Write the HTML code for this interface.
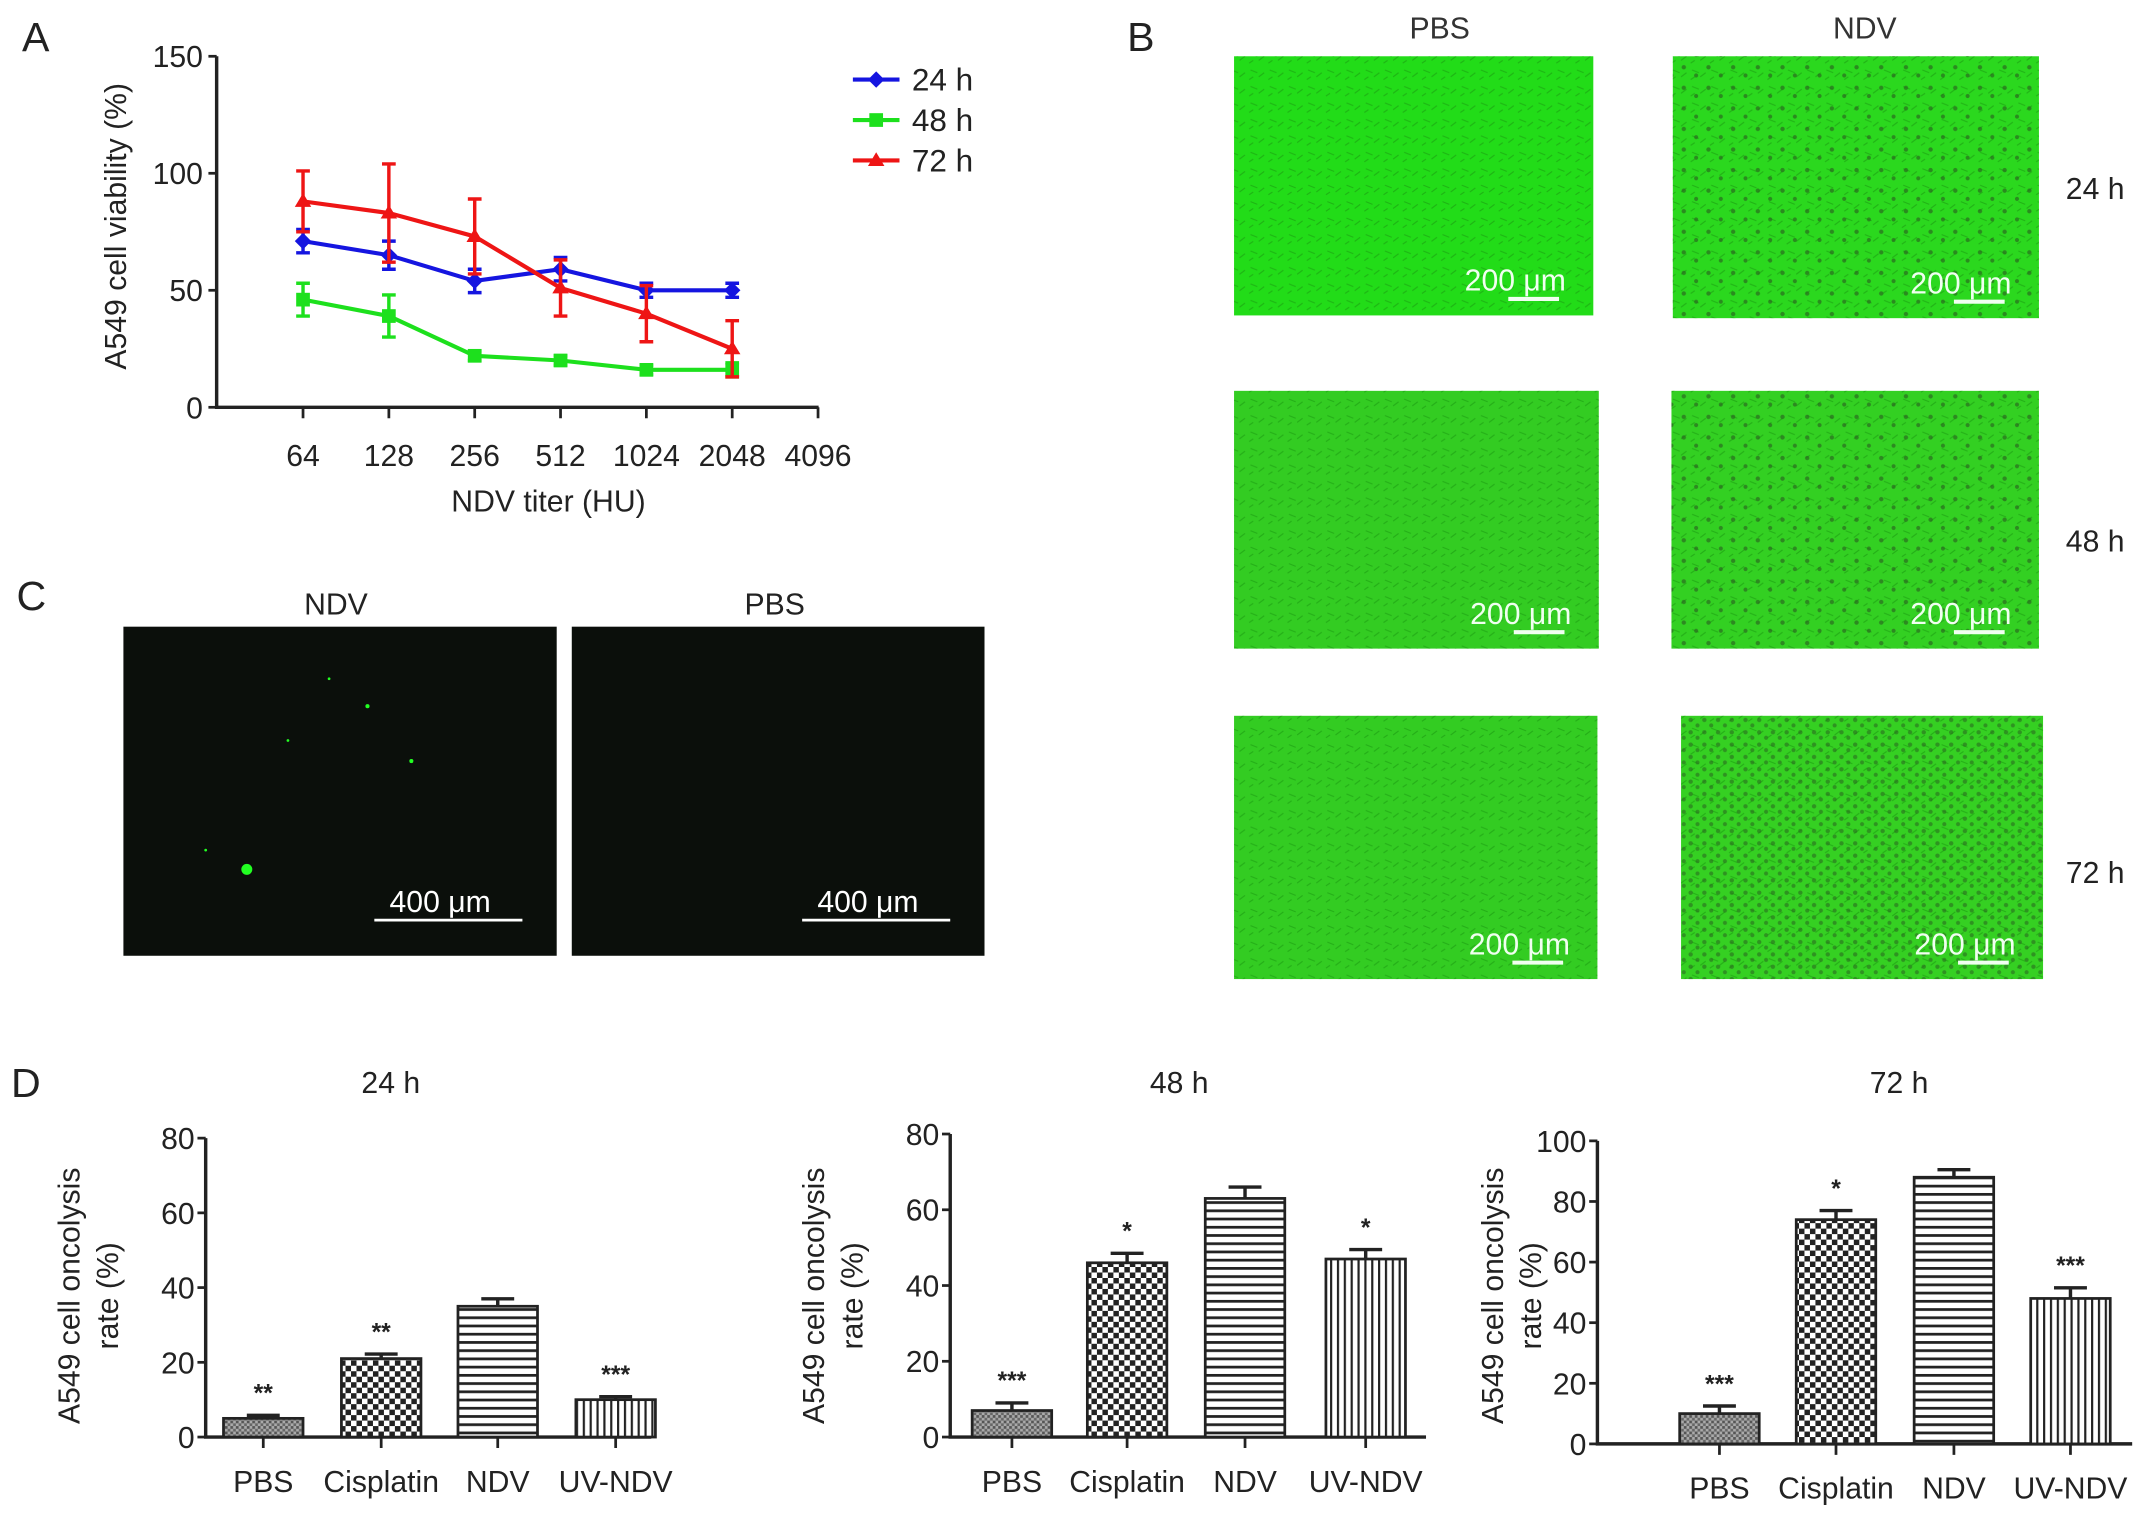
<!DOCTYPE html>
<html><head><meta charset="utf-8"><style>
html,body{margin:0;padding:0;background:#fff;width:2150px;height:1518px;overflow:hidden}
svg{display:block;font-family:"Liberation Sans",Arial,sans-serif}
</style></head><body>
<svg id="fig" width="2150" height="1518" viewBox="0 0 1568 1107" xmlns="http://www.w3.org/2000/svg">
<defs>
<pattern id="pStip" width="4" height="4" patternUnits="userSpaceOnUse"><rect width="4" height="4" fill="#aaa"/><rect width="2" height="2" fill="#555"/><rect x="2" y="2" width="2" height="2" fill="#666"/></pattern>
<pattern id="pCheck" width="8" height="8" patternUnits="userSpaceOnUse"><rect width="8" height="8" fill="#fff"/><rect width="4" height="4" fill="#222"/><rect x="4" y="4" width="4" height="4" fill="#222"/></pattern>
<pattern id="pHor" width="6" height="6" patternUnits="userSpaceOnUse"><rect width="6" height="6" fill="#fff"/><rect y="0" width="6" height="2" fill="#222"/></pattern>
<pattern id="pVer" width="5" height="5" patternUnits="userSpaceOnUse"><rect width="5" height="5" fill="#fff"/><rect width="1.6" height="5" fill="#222"/></pattern>
<pattern id="cells" width="14" height="12" patternUnits="userSpaceOnUse"><rect width="14" height="12" fill="none"/><path d="M2 3 l5 2 M8 8 l4 -3 M1 10 l3 -2" stroke="#1a9a10" stroke-width="0.8" opacity="0.6"/></pattern>
<pattern id="dots" width="18" height="15" patternUnits="userSpaceOnUse"><circle cx="4" cy="4" r="1.6" fill="#2a6a20"/><circle cx="13" cy="10" r="1.5" fill="#2a6a20"/></pattern>
<pattern id="dotsD" width="10" height="9" patternUnits="userSpaceOnUse"><circle cx="3" cy="3" r="1.6" fill="#2a6a20"/><circle cx="8" cy="7" r="1.5" fill="#2a6a20"/></pattern>
</defs>
<g id="panelA"></g>
<g id="panelB"></g>
<g id="panelC"></g>
<g id="panelD"></g>
</svg>
<script>
// ---- Panel A data ----
const titers = ["64","128","256","512","1024","2048","4096"];
const yTicksA = [0,50,100,150];
const v24 = [71,65,54,59,50,50];
const e24 = [5,6,5,5,3,3];
const v48 = [46,39,22,20,16,16];
const e48 = [7,9,2,2,2,3];
const v72 = [88,83,73,51,40,25];
const e72 = [13,21,16,12,12,12];
// ---- Panel D data ----
const groups = ["PBS","Cisplatin","NDV","UV-NDV"];
const d24 = [5,21,35,10];
const d24e = [0.8,1.2,2,0.8];
const d24s = ["**","**","","***"];
const d48 = [7,46,63,47];
const d48e = [2,2.5,3,2.5];
const d48s = ["***","*","","*"];
const d72 = [10,74,88,48];
const d72e = [2.5,3,2.5,3.5];
const d72s = ["***","*","","***"];
const yTicks80 = [0,20,40,60,80];
const yTicks100 = [0,20,40,60,80,100];

const NS="http://www.w3.org/2000/svg";
function mk(p,t,a,txt){const e=document.createElementNS(NS,t);for(const k in a)e.setAttribute(k,a[k]);if(txt!==undefined)e.textContent=txt;p.appendChild(e);return e;}

// Panel A
(function(){
const g=document.getElementById('panelA');
const x0=158,x1=597,yb=297,yt=41;
const xs=i=>221+i*62.6;
const ys=v=>yb-(v/150)*(yb-yt);
let t=mk(g,'text',{x:16,y:37,'font-size':30,fill:'#222'},'A');


let ax=mk(g,'path',{d:`M${x0} ${yt} V${yb} H${x1}`,stroke:'#222','stroke-width':2.5,fill:'none'});


yTicksA.forEach(v=>{mk(g,'line',{x1:x0-6,x2:x0,y1:ys(v),y2:ys(v),stroke:'#222','stroke-width':2});
 const l=mk(g,'text',{x:x0-10,y:ys(v)+8,'text-anchor':'end','font-size':22,fill:'#222'},v);
 
 });
titers.forEach((s,i)=>{mk(g,'line',{x1:xs(i),x2:xs(i),y1:yb,y2:yb+8,stroke:'#222','stroke-width':2});
 const l=mk(g,'text',{x:xs(i),y:340,'text-anchor':'middle','font-size':22,fill:'#222'},s);
 
 });
let xt=mk(g,'text',{x:400,y:373,'text-anchor':'middle','font-size':22,fill:'#222'},'NDV titer (HU)');


let yt2=mk(g,'text',{x:0,y:0,transform:'translate(92,165) rotate(-90)','text-anchor':'middle','font-size':22,fill:'#222'},'A549 cell viability (%)');


const series=[[v24,e24,'#1515e0','24 h','d'],[v48,e48,'#1de01d','48 h','s'],[v72,e72,'#ee1515','72 h','t']];
series.forEach(([v,e,c,name,m],si)=>{
 const sg=mk(g,'g',{});
 
 
 mk(sg,'polyline',{points:v.map((d,i)=>xs(i)+','+ys(d)).join(' '),fill:'none',stroke:c,'stroke-width':3});
 v.forEach((d,i)=>{
  const X=xs(i);
  mk(sg,'path',{d:`M${X} ${ys(d-e[i])} V${ys(d+e[i])} M${X-5} ${ys(d-e[i])} h10 M${X-5} ${ys(d+e[i])} h10`,stroke:c,'stroke-width':2.5,fill:'none'});
  let mark;
  if(m==='d') mark=mk(sg,'path',{d:`M${X} ${ys(d)-6} l6 6 l-6 6 l-6 -6z`,fill:c});
  else if(m==='s') mark=mk(sg,'rect',{x:X-5,y:ys(d)-5,width:10,height:10,fill:c});
  else mark=mk(sg,'path',{d:`M${X} ${ys(d)-6} l6 10 h-12z`,fill:c});
  
  
 });
 const ly=58+si*29.5;
 const lg=mk(g,'g',{});
 
 
 mk(lg,'line',{x1:622,x2:656,y1:ly,y2:ly,stroke:c,'stroke-width':3});
 if(m==='d') mk(lg,'path',{d:`M639 ${ly-6} l6 6 l-6 6 l-6 -6z`,fill:c});
 else if(m==='s') mk(lg,'rect',{x:634,y:ly-5,width:10,height:10,fill:c});
 else mk(lg,'path',{d:`M639 ${ly-6} l6 10 h-12z`,fill:c});
 mk(lg,'text',{x:665,y:ly+8,'font-size':23,fill:'#222'},name);
});
})();

// Panel B
(function(){
const g=document.getElementById('panelB');
let t=mk(g,'text',{x:822,y:37,'font-size':30,fill:'#222'},'B');


[['PBS',1050],['NDV',1360]].forEach(([s,x])=>{const l=mk(g,'text',{x:x,y:28,'text-anchor':'middle','font-size':22,fill:'#333'},s);
 
 });
const imgs=[[900,41,262,189,'#22dc18',0],[1220,41,267,191,'#2bd81e',1],[900,285,266,188,'#33cc22',0],[1219,285,268,188,'#33d022',1],[900,522,265,192,'#33cc22',0],[1226,522,264,192,'#35d022',2]];
imgs.forEach(([x,y,w,h,c,d],i)=>{
 const ig=mk(g,'g',{});
 
 
 mk(ig,'rect',{x,y,width:w,height:h,fill:c});
 mk(ig,'rect',{x,y,width:w,height:h,fill:'url(#cells)'});
 if(d===1) mk(ig,'rect',{x,y,width:w,height:h,fill:'url(#dots)',opacity:0.7});
 if(d===2) mk(ig,'rect',{x,y,width:w,height:h,fill:'url(#dotsD)',opacity:0.6});
 mk(ig,'text',{x:x+w-20,y:y+h-18,'text-anchor':'end','font-size':22,fill:'#f0fff0'},'200 μm');
 mk(ig,'line',{x1:x+w-62,x2:x+w-25,y1:y+h-12,y2:y+h-12,stroke:'#f0fff0','stroke-width':3});
});
[['24 h',145],['48 h',402],['72 h',644]].forEach(([s,y])=>{const l=mk(g,'text',{x:1528,y:y,'text-anchor':'middle','font-size':22,fill:'#222'},s);
 
 });
})();

// Panel C
(function(){
const g=document.getElementById('panelC');
let t=mk(g,'text',{x:12,y:445,'font-size':30,fill:'#222'},'C');


[['NDV',245,90,316],['PBS',565,417,301]].forEach(([s,cx,x,w])=>{
 const ig=mk(g,'g',{});
 
 
 mk(ig,'text',{x:cx,y:448,'text-anchor':'middle','font-size':22,fill:'#222'},s);
 mk(ig,'rect',{x,y:457,width:w,height:240,fill:'#0b0f0b'});
 if(s==='NDV'){[[180,634,4],[268,515,1.5],[240,495,1],[300,555,1.5],[210,540,1],[150,620,1]].forEach(([a,b,r])=>mk(ig,'circle',{cx:a,cy:b,r,fill:'#2f2'}));}
 mk(ig,'text',{x:x+w-85,y:665,'text-anchor':'middle','font-size':22,fill:'#fff'},'400 μm');
 mk(ig,'line',{x1:x+w-133,x2:x+w-25,y1:671,y2:671,stroke:'#fff','stroke-width':2});
});
})();

// Panel D
(function(){
const g=document.getElementById('panelD');
let t=mk(g,'text',{x:8,y:800,'font-size':30,fill:'#222'},'D');


const fills=['url(#pStip)','url(#pCheck)','url(#pHor)','url(#pVer)'];
const charts=[
 {title:'24 h',tx:285,ax:150,yt:830,yb:1048,max:80,ticks:yTicks80,vals:d24,errs:d24e,sig:d24s,centers:[192,278,363,449],ylx:62,x1:475},
 {title:'48 h',tx:860,ax:693,yt:827,yb:1048,max:80,ticks:yTicks80,vals:d48,errs:d48e,sig:d48s,centers:[738,822,908,996],ylx:605,x1:1040},
 {title:'72 h',tx:1385,ax:1165,yt:832,yb:1053,max:100,ticks:yTicks100,vals:d72,errs:d72e,sig:d72s,centers:[1254,1339,1425,1510],ylx:1100,x1:1555}
];
charts.forEach(c=>{
 const cg=mk(g,'g',{});
 
 
 const ys=v=>c.yb-(v/c.max)*(c.yb-c.yt);
 const tt=mk(cg,'text',{x:c.tx,y:797,'text-anchor':'middle','font-size':22,fill:'#222'},c.title);
 
 
 const yl=mk(cg,'text',{transform:`translate(${c.ylx-4},945) rotate(-90)`,'text-anchor':'middle','font-size':22,fill:'#222'});
 
 
 mk(yl,'tspan',{x:0,dy:0},'A549 cell oncolysis');
 mk(yl,'tspan',{x:0,dy:28},'rate (%)');
 mk(cg,'path',{d:`M${c.ax} ${c.yt} V${c.yb} H${c.x1}`,stroke:'#222','stroke-width':2.5,fill:'none'});
 c.ticks.forEach(v=>{mk(cg,'line',{x1:c.ax-6,x2:c.ax,y1:ys(v),y2:ys(v),stroke:'#222','stroke-width':2});
  const l=mk(cg,'text',{x:c.ax-8,y:ys(v)+8,'text-anchor':'end','font-size':22,fill:'#222'},v);
  
  });
 groups.forEach((gname,i)=>{
  const X=c.centers[i],v=c.vals[i],e=c.errs[i];
  const b=mk(cg,'rect',{x:X-29,y:ys(v),width:58,height:c.yb-ys(v),fill:fills[i],stroke:'#222','stroke-width':2});
  
  
  mk(cg,'path',{d:`M${X} ${ys(v)} V${ys(v+e)} M${X-12} ${ys(v+e)} h24`,stroke:'#222','stroke-width':2.5,fill:'none'});
  mk(cg,'line',{x1:X,x2:X,y1:c.yb,y2:c.yb+8,stroke:'#222','stroke-width':2});
  if(c.sig[i]){const s=mk(cg,'text',{x:X,y:ys(v+e)-10,'text-anchor':'middle','font-size':18,'font-weight':'bold',fill:'#222'},c.sig[i]);
   
   }
  const l=mk(cg,'text',{x:X,y:c.yb+40,'text-anchor':'middle','font-size':22,fill:'#222'},gname);
  
  
 });
});
})();
</script>
</body></html>
